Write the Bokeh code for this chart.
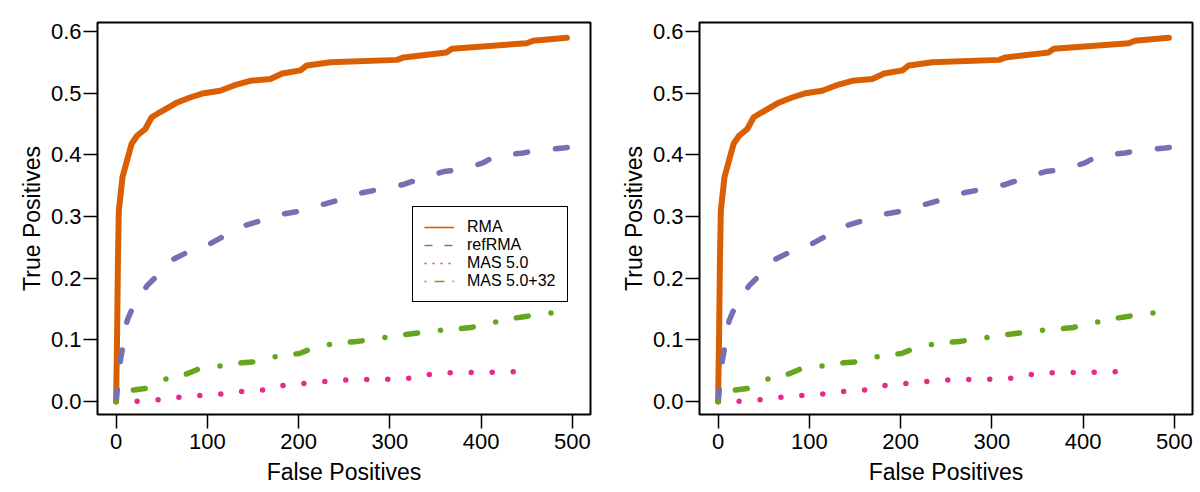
from bokeh.plotting import figure
from bokeh.layouts import row
from bokeh.models import FixedTicker, PrintfTickFormatter, Legend, LegendItem, Range1d
from bokeh.embed import file_html
from bokeh.resources import INLINE

# ---- data ----
rma_fp = [0, 1, 2, 3, 7, 12, 17, 23, 32, 39, 48, 67, 81, 96, 114, 132, 147, 169,
          182, 202, 209, 235, 308, 315, 362, 368, 450, 457, 494]
rma_tp = [0, 0.099, 0.229, 0.31, 0.364, 0.391, 0.418, 0.431, 0.442, 0.461, 0.469,
          0.485, 0.493, 0.5, 0.504, 0.514, 0.52, 0.523, 0.532, 0.537, 0.545, 0.55,
          0.554, 0.558, 0.566, 0.572, 0.581, 0.585, 0.59]

ref_fp = [0, 2, 5, 8, 12, 19, 34, 45, 63, 78, 103, 118, 140, 158, 183, 202, 225,
          245, 271, 289, 315, 333, 359, 379, 402, 417, 446, 463, 490, 499]
ref_tp = [0, 0.03, 0.07, 0.094, 0.131, 0.155, 0.188, 0.204, 0.231, 0.242, 0.256,
          0.268, 0.285, 0.293, 0.304, 0.309, 0.319, 0.327, 0.339, 0.344, 0.352,
          0.361, 0.373, 0.376, 0.387, 0.399, 0.403, 0.408, 0.411, 0.413]

mas_fp = [0, 24, 47, 70, 93, 117, 141, 164, 185, 209, 232, 256, 279, 303, 326,
          349, 372, 396, 419, 443]
mas_tp = [0, 0.0005, 0.003, 0.007, 0.01, 0.0125, 0.0167, 0.019, 0.027, 0.0297,
          0.0329, 0.0352, 0.0357, 0.0362, 0.0384, 0.0459, 0.047, 0.047, 0.0475, 0.0486]

mas32_fp = [0, 16, 36, 55, 78, 92, 115, 138, 156, 178, 201, 218, 240, 261, 280,
            303, 324, 344, 367, 389, 407, 427, 449, 468, 491]
mas32_tp = [0, 0.018, 0.022, 0.037, 0.045, 0.054, 0.058, 0.063, 0.065, 0.074,
            0.078, 0.088, 0.094, 0.097, 0.1, 0.106, 0.11, 0.114, 0.117, 0.12,
            0.126, 0.133, 0.138, 0.142, 0.146]

x_ticks = [0, 100, 200, 300, 400, 500]
y_ticks = [0.0, 0.1, 0.2, 0.3, 0.4, 0.5, 0.6]

labels = ["RMA", "refRMA", "MAS 5.0", "MAS 5.0+32"]
colors = ["#D95F02", "#7570B3", "#E7298A", "#66A61E"]
dashes = ["solid", "12 28", "0 21", "0 21 12 23"]
legend_dashes = ["solid", "8 12", "2 6", "2 8 10 8"]

FONT = "Liberation Sans"


def make_panel(border_left, border_right, with_legend):
    p = figure(width=border_left + 493 + border_right, height=492,
               output_backend="svg", toolbar_location=None,
               x_range=Range1d(-20.4, 519.9), y_range=Range1d(-0.021, 0.6146))
    p.min_border_left = border_left
    p.min_border_right = border_right
    p.min_border_top = 22
    p.min_border_bottom = 78
    p.background_fill_color = "white"
    p.border_fill_color = "white"
    p.outline_line_color = "black"
    p.outline_line_width = 2
    p.grid.visible = False

    series = [(rma_fp, rma_tp), (ref_fp, ref_tp), (mas_fp, mas_tp), (mas32_fp, mas32_tp)]
    widths = [6, 5.5, 5.5, 5.5]
    for (xs, ys), c, d, w in zip(series, colors, dashes, widths):
        p.line(xs, ys, line_color=c, line_width=w, line_dash=d,
               line_cap="round", line_join="round")

    for ax in (p.xaxis[0], p.yaxis[0]):
        ax.axis_line_color = None
        ax.major_tick_line_color = "black"
        ax.major_tick_line_width = 1.5
        ax.major_tick_out = 14
        ax.major_tick_in = 0
        ax.minor_tick_line_color = None
        ax.major_label_text_font = FONT
        ax.major_label_text_font_size = "22px"
        ax.major_label_text_color = "black"
        ax.axis_label_text_font = FONT
        ax.axis_label_text_font_size = "23px"
        ax.axis_label_text_font_style = "normal"
        ax.axis_label_text_color = "black"

    p.xaxis.ticker = FixedTicker(ticks=x_ticks)
    p.yaxis.ticker = FixedTicker(ticks=y_ticks)
    p.yaxis.formatter = PrintfTickFormatter(format="%.1f")
    p.xaxis.axis_label = "False Positives"
    p.yaxis.axis_label = "True Positives"
    p.xaxis.major_label_standoff = 5
    p.xaxis.axis_label_standoff = 7
    p.yaxis.major_label_standoff = 2
    p.yaxis.axis_label_standoff = 3

    if with_legend:
        items = []
        for lab, c, d in zip(labels, colors, legend_dashes):
            # legend key sample only: placed outside the visible ranges
            r = p.line(x=[-1000, -999], y=[-1, -1], line_color=c, line_width=1.6,
                       line_dash=d)
            items.append(LegendItem(label=lab, renderers=[r]))
        leg = Legend(items=items, location=(315, 112))
        leg.label_text_font = FONT
        leg.label_text_font_size = "16px"
        leg.label_text_color = "black"
        leg.glyph_width = 30
        leg.glyph_height = 18
        leg.label_height = 18
        leg.label_standoff = 13
        leg.spacing = 0
        leg.padding = 11
        leg.margin = 0
        leg.border_line_color = "black"
        leg.border_line_alpha = 1
        leg.border_line_width = 1.5
        leg.background_fill_color = "white"
        leg.background_fill_alpha = 1
        p.add_layout(leg, "center")
    return p


left = make_panel(97, 10, True)
right = make_panel(99, 8, False)
layout = row(left, right)

open("out.html", "w").write(file_html(layout, INLINE))
